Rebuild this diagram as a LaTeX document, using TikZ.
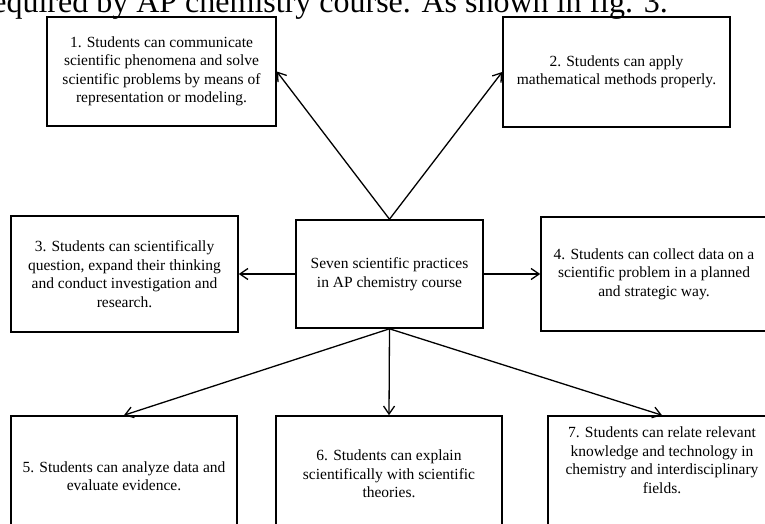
\documentclass[tikz,border=0pt]{standalone}
\usepackage{fontspec}
\setmainfont{Liberation Serif}
\usetikzlibrary{arrows.meta}
\tikzstyle{practice}=[rectangle,draw,line width=1.6pt,align=center,inner sep=2pt,font=\fontsize{15.5}{18.5}\selectfont]
\tikzstyle{link} = [draw,line width=1.3pt,-{Straight Barb[length=8pt,width=11pt]}]
\tikzstyle{runningtext} = [font=\fontsize{32}{38}\selectfont,inner sep=0pt,anchor=base east]

\begin{document}
\begin{tikzpicture}[x=1pt,y=-1pt]
    \useasboundingbox (0,0) rectangle (765,524);
    \clip (0,0) rectangle (765,524);
    % Line of the page text, cut off above the figure
    \node[runningtext] (pagetext) at (668,13) {required by AP chemistry course. As shown in fig. 3.};

    % First we draw the centre box
    \node[practice,minimum width=187pt,minimum height=108pt] (centre) at (389.5,274) {Seven scientific practices\\in AP chemistry course};

    % Then the seven practices round it
    \foreach \pos/\name/\w/\h/\txt in {
        {(161.5,71.5)/p1/229/109/{1. Students can communicate\\scientific phenomena and solve\\scientific problems by means of\\representation or modeling.}},
        {(616.5,72)/p2/227/110/{2. Students can apply\\mathematical methods properly.}},
        {(124.5,274)/p3/227/116/{3. Students can scientifically\\question, expand their thinking\\and conduct investigation and\\research.}},
        {(654,274)/p4/226/114/{4. Students can collect data on a\\scientific problem in a planned\\and strategic way.}},
        {(124,476)/p5/226/120/{5. Students can analyze data and\\evaluate evidence.}},
        {(389,474)/p6/226/116/{6. Students can explain\\scientifically with scientific\\theories.}}}
        \node[practice,minimum width=\w pt,minimum height=\h pt] (\name) at \pos {\txt};
    \node[practice,minimum width=228pt,minimum height=120pt,text depth=32pt] (p7) at (662,476) {7. Students can relate relevant\\knowledge and technology in\\chemistry and interdisciplinary\\fields.};

    % Connect the centre with the practices
    \foreach \dest/\from/\to in {p1/north/east, p2/north/west, p3/west/east, p4/east/west, p5/south/north, p6/south/north, p7/south/north}
        \path[link] (centre.\from) -- (\dest.\to);
\end{tikzpicture}
\end{document}
